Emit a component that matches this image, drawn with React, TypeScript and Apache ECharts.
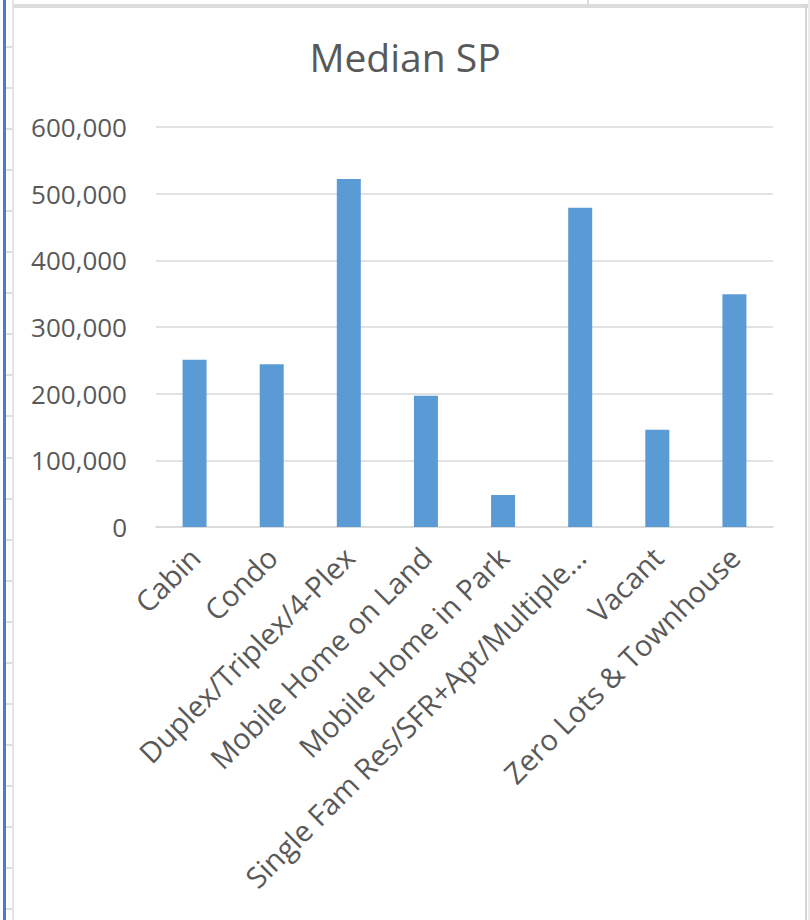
import React, { useEffect, useRef } from "react";
import * as echarts from "echarts";

const categories = [
  "Cabin",
  "Condo",
  "Duplex/Triplex/4-Plex",
  "Mobile Home on Land",
  "Mobile Home in Park",
  "Single Fam Res/SFR+Apt/Multiple…",
  "Vacant",
  "Zero Lots & Townhouse",
];
const medianPrices = [251000, 244000, 522000, 197000, 48000, 479000, 146000, 349000];
const yTicks = { min: 0, max: 600000, interval: 100000 };

const FONT = "'Open Sans', 'Noto Sans', sans-serif";
const TEXT = "#595959";
const GRID_LINE = "#d9d9d9";

// spreadsheet row markers along the left edge
const rowMarks: number[] = [];
for (let y = 46; y < 920; y += 41.05) rowMarks.push(Math.round(y));

export default function App() {
  const ref = useRef<HTMLDivElement>(null);

  useEffect(() => {
    if (!ref.current) return;
    const chart = echarts.init(ref.current, null, { renderer: "svg" });

    const frame: any[] = [
      { type: "rect", shape: { x: 0, y: 0, width: 810, height: 920 }, style: { fill: "#ffffff" }, z: -10 },
      // top sheet border
      { type: "rect", shape: { x: 12, y: 4, width: 796, height: 4 }, style: { fill: "#dcdcdc" } },
      { type: "rect", shape: { x: 587, y: 0, width: 2, height: 5 }, style: { fill: "#dcdcdc" } },
      // left cell gridline
      { type: "rect", shape: { x: 12, y: 0, width: 2, height: 920 }, style: { fill: "#e3e3e3" } },
      // right cell gridline
      { type: "rect", shape: { x: 805, y: 4, width: 2, height: 916 }, style: { fill: "#d6d6d6" } },
      { type: "rect", shape: { x: 808, y: 0, width: 2, height: 920 }, style: { fill: "#ececec" } },
      // selection edge
      { type: "rect", shape: { x: 3, y: 0, width: 3, height: 920 }, style: { fill: "#4a7cc7" } },
    ];
    rowMarks.forEach((y) => {
      frame.push({ type: "rect", shape: { x: 6, y, width: 6, height: 2 }, style: { fill: "#dedede" } });
    });

    chart.setOption({
      animation: false,
      backgroundColor: "transparent",
      graphic: frame,
      title: {
        text: "Median SP",
        left: "center",
        top: 32,
        textStyle: { fontFamily: FONT, fontSize: 39, fontWeight: "normal", color: TEXT },
      },
      grid: { left: 156, right: 37, top: 127, bottom: 393, containLabel: false },
      xAxis: {
        type: "category",
        data: categories,
        axisLine: { lineStyle: { color: GRID_LINE, width: 1.5 } },
        axisTick: { show: false },
        axisLabel: {
          interval: 0,
          rotate: 45,
          margin: 25,
          fontFamily: FONT,
          fontSize: 29,
          color: TEXT,
        },
      },
      yAxis: {
        type: "value",
        min: yTicks.min,
        max: yTicks.max,
        interval: yTicks.interval,
        axisLine: { show: false },
        axisTick: { show: false },
        splitLine: { lineStyle: { color: GRID_LINE, width: 1.5 } },
        axisLabel: {
          margin: 29,
          fontFamily: FONT,
          fontSize: 26,
          color: TEXT,
          formatter: (v: number) => v.toLocaleString("en-US"),
        },
      },
      series: [
        {
          type: "bar",
          data: medianPrices,
          barWidth: 24,
          itemStyle: { color: "#5b9bd5" },
        },
      ],
    });

    return () => chart.dispose();
  }, []);

  return (
    <div
      ref={ref}
      style={{ position: "absolute", left: 0, top: 0, width: 810, height: 920, background: "#fff" }}
    />
  );
}
